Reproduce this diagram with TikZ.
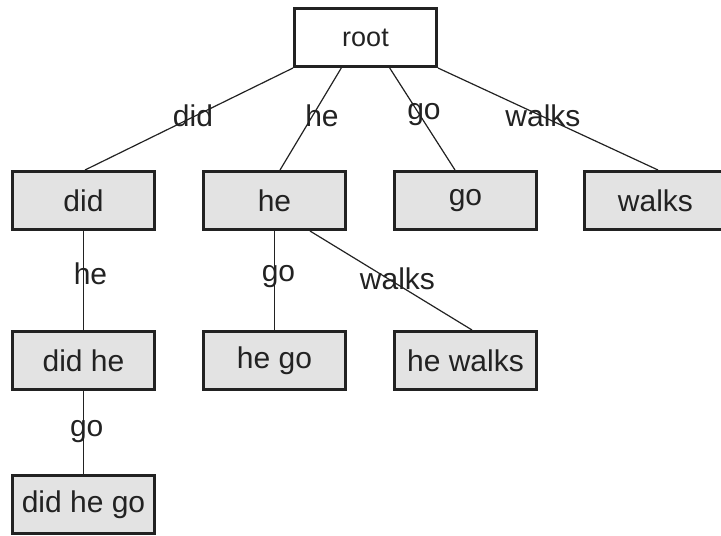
\documentclass[tikz,border=0pt]{standalone}
\usepackage{fontspec}
\setmainfont{Liberation Sans}
\usetikzlibrary{calc}
\definecolor{boxfill}{HTML}{E3E3E3}
\definecolor{ink}{HTML}{222222}
\begin{document}
\begin{tikzpicture}[x=1pt,y=-1pt,
  box/.style={draw=ink, line width=3pt, fill=boxfill, minimum width=142pt, minimum height=58pt, inner sep=0pt, font=\fontsize{30}{35}\selectfont, text=ink},
  rootbox/.style={box, fill=white, font=\fontsize{27}{32}\selectfont},
  edge/.style={draw=ink, line width=1.2pt},
  lbl/.style={inner sep=0pt, font=\fontsize{30}{35}\selectfont, text=ink}]
\useasboundingbox (0,0) rectangle (721,536);
\node[rootbox] (root) at (365.5,37.5) {root};
\node[box] (did) at (83.5,200.5) {did};
\node[box] (he) at (274.5,200.5) {he};
\node[box] (go) at (465.5,200.5) {go};
\node[box] (walks) at (655.5,200.5) {walks};
\node[box] (didhe) at (83.5,360.5) {did he};
\node[box] (hego) at (274.5,360.5) {he go};
\node[box] (hewalks) at (465.5,360.5) {he walks};
\node[box] (didhego) at (83.5,504.5) {did he go};
% edges
\draw[edge] ($(root.south west)!0!(root.south east)$) -- ($(did.north)+(1.5,0)$);
\draw[edge] ($(root.south west)!0.333!(root.south east)$) -- ($(he.north)+(5.5,0)$);
\draw[edge] ($(root.south west)!0.667!(root.south east)$) -- ($(go.north)+(-10.5,0)$);
\draw[edge] ($(root.south west)!1!(root.south east)$) -- ($(walks.north)+(2.5,0)$);
\draw[edge] (did.south) -- (didhe.north);
\draw[edge] (he.south) -- (hego.north);
\draw[edge] ($(he.south)+(35.5,0)$) -- ($(hewalks.north)+(6.5,0)$);
\draw[edge] (didhe.south) -- (didhego.north);
% labels
\node[lbl] (l1) at (193,116) {did};
\node[lbl] (l2) at (322,116) {he};
\node[lbl] (l3) at (424,114.5) {go};
\node[lbl] (l4) at (543,116) {walks};
\node[lbl] (l5) at (90.5,274) {he};
\node[lbl] (l6) at (278.5,276.5) {go};
\node[lbl] (l7) at (397.5,279) {walks};
\node[lbl] (l8) at (86.7,432) {go};
\end{tikzpicture}
\end{document}
